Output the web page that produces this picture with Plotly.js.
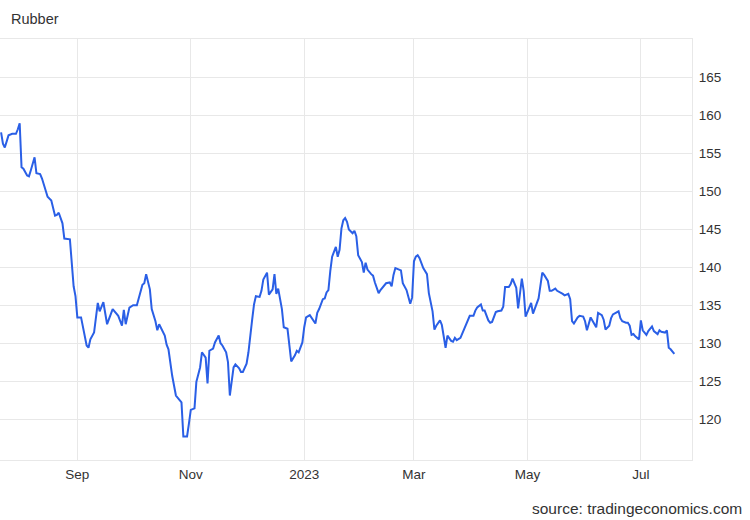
<!DOCTYPE html>
<html>
<head>
<meta charset="utf-8">
<script src="https://cdn.plot.ly/plotly-3.0.1.min.js"></script>
<style>
  html, body { margin: 0; padding: 0; background: #ffffff; }
  #chart { width: 750px; height: 520px; }
</style>
</head>
<body>
<div id="chart"></div>
<script>
const dates = [
  '2022-07-22','2022-07-23','2022-07-24','2022-07-26','2022-07-28','2022-07-30','2022-07-31',
  '2022-08-01','2022-08-02','2022-08-03','2022-08-05','2022-08-06','2022-08-07','2022-08-09','2022-08-10',
  '2022-08-12','2022-08-13','2022-08-15','2022-08-16','2022-08-18','2022-08-20','2022-08-21','2022-08-22',
  '2022-08-24','2022-08-25','2022-08-28','2022-08-30','2022-08-31',
  '2022-09-01','2022-09-03','2022-09-05','2022-09-06','2022-09-07','2022-09-08','2022-09-10','2022-09-11',
  '2022-09-12','2022-09-13','2022-09-15','2022-09-17','2022-09-19','2022-09-20','2022-09-23','2022-09-25',
  '2022-09-26','2022-09-27','2022-09-29',
  '2022-10-01','2022-10-03','2022-10-04','2022-10-06','2022-10-07','2022-10-08','2022-10-10','2022-10-11',
  '2022-10-13','2022-10-14','2022-10-15','2022-10-18','2022-10-19','2022-10-20','2022-10-22','2022-10-23',
  '2022-10-24','2022-10-26','2022-10-27','2022-10-28','2022-10-30','2022-10-31',
  '2022-11-01','2022-11-03','2022-11-04','2022-11-06','2022-11-07','2022-11-09','2022-11-10','2022-11-11',
  '2022-11-13','2022-11-14','2022-11-16','2022-11-17','2022-11-18','2022-11-20','2022-11-21','2022-11-22',
  '2022-11-24','2022-11-25','2022-11-27','2022-11-28','2022-11-29',
  '2022-12-01','2022-12-02','2022-12-04','2022-12-05','2022-12-06','2022-12-08','2022-12-09','2022-12-10',
  '2022-12-12','2022-12-13','2022-12-15','2022-12-16','2022-12-17','2022-12-18','2022-12-20','2022-12-21',
  '2022-12-23','2022-12-24','2022-12-25','2022-12-27','2022-12-28','2022-12-29','2022-12-31',
  '2023-01-01','2023-01-02','2023-01-04','2023-01-07','2023-01-08','2023-01-09','2023-01-11','2023-01-12',
  '2023-01-13','2023-01-14','2023-01-15','2023-01-16','2023-01-18','2023-01-19','2023-01-20','2023-01-21',
  '2023-01-22','2023-01-23','2023-01-24','2023-01-25','2023-01-27','2023-01-28','2023-01-29','2023-01-30',
  '2023-02-01','2023-02-02','2023-02-03','2023-02-04','2023-02-06','2023-02-07','2023-02-08','2023-02-10',
  '2023-02-11','2023-02-13','2023-02-14','2023-02-16','2023-02-17','2023-02-18','2023-02-19','2023-02-21',
  '2023-02-22','2023-02-23','2023-02-25','2023-02-27','2023-02-28',
  '2023-03-01','2023-03-02','2023-03-03','2023-03-04','2023-03-06','2023-03-07','2023-03-08','2023-03-09',
  '2023-03-11','2023-03-12','2023-03-13','2023-03-15','2023-03-16','2023-03-18','2023-03-19','2023-03-21',
  '2023-03-22','2023-03-23','2023-03-24','2023-03-26','2023-03-27','2023-03-30','2023-03-31',
  '2023-04-02','2023-04-03','2023-04-04','2023-04-06','2023-04-07','2023-04-08','2023-04-10','2023-04-11',
  '2023-04-12','2023-04-14','2023-04-15','2023-04-17','2023-04-18','2023-04-19','2023-04-21','2023-04-22',
  '2023-04-23','2023-04-25','2023-04-26','2023-04-28','2023-04-29','2023-04-30',
  '2023-05-02','2023-05-03','2023-05-04','2023-05-06','2023-05-07','2023-05-09','2023-05-10','2023-05-12',
  '2023-05-13','2023-05-14','2023-05-16','2023-05-17','2023-05-18','2023-05-20','2023-05-21','2023-05-23',
  '2023-05-24','2023-05-25','2023-05-26','2023-05-28','2023-05-29','2023-05-31',
  '2023-06-01','2023-06-02','2023-06-04','2023-06-05','2023-06-07','2023-06-08','2023-06-10','2023-06-11',
  '2023-06-12','2023-06-14','2023-06-15','2023-06-16','2023-06-19','2023-06-20','2023-06-21','2023-06-23',
  '2023-06-24','2023-06-25','2023-06-26','2023-06-27','2023-06-28','2023-06-30',
  '2023-07-01','2023-07-02','2023-07-04','2023-07-05','2023-07-07','2023-07-08','2023-07-10','2023-07-11',
  '2023-07-12','2023-07-14','2023-07-15','2023-07-16','2023-07-17','2023-07-19'
];

const prices = [
  157.8,156.3,155.8,157.4,157.6,157.6,158.2,
  159.0,153.2,153.0,152.1,152.0,152.8,154.5,152.4,
  152.3,151.7,149.9,149.3,148.8,146.8,146.9,147.2,
  145.8,143.8,143.7,137.5,136.2,
  133.4,133.4,131.0,129.7,129.4,130.5,131.4,133.1,
  135.3,134.2,135.4,132.5,133.8,134.5,133.6,132.3,
  134.4,132.5,134.7,
  135.0,135.0,135.8,137.7,137.9,139.1,137.1,134.5,
  132.9,131.7,132.5,131.0,129.8,129.2,125.7,124.4,
  123.1,122.5,122.2,117.7,117.7,119.4,
  121.2,121.4,124.9,126.8,128.8,128.1,124.7,129.0,
  129.3,130.1,131.0,130.0,129.7,128.8,127.5,123.1,
  126.8,127.2,126.7,126.2,126.2,
  127.3,128.8,133.1,135.1,136.2,136.1,136.9,138.4,
  139.3,136.4,137.1,139.1,136.5,137.2,134.5,132.1,
  131.9,129.4,127.6,128.4,129.0,128.8,130.1,
  132.1,133.4,133.7,132.6,134.0,134.5,135.8,135.9,
  136.7,137.0,139.5,141.4,142.7,141.4,142.3,145.1,
  146.2,146.5,146.0,145.0,144.5,144.8,144.1,141.6,
  140.7,139.3,140.6,139.7,139.1,138.9,138.0,136.6,
  137.0,137.7,137.9,138.0,137.5,139.0,139.9,139.7,
  139.6,137.9,137.0,135.2,136.0,
  140.8,141.4,141.6,141.2,139.9,139.4,139.1,136.6,
  134.2,131.8,132.3,133.0,132.4,129.4,131.0,130.3,
  130.2,130.7,130.4,130.7,131.3,133.1,133.6,
  133.6,134.3,134.7,135.1,134.3,134.3,133.0,132.7,
  132.8,134.1,134.2,134.3,134.8,137.4,137.4,137.8,
  138.5,137.3,134.6,138.5,136.9,133.5,
  134.7,135.3,133.9,135.1,135.9,139.3,139.0,138.2,
  136.9,136.9,137.2,136.9,136.8,136.5,136.3,136.5,
  135.8,132.9,132.6,133.4,133.6,133.5,
  132.9,131.7,133.4,132.9,132.1,134.0,133.7,133.1,
  131.8,132.3,133.3,133.8,134.2,133.3,132.9,132.7,
  132.7,132.3,131.1,131.2,130.9,130.5,
  133.0,131.7,131.1,131.6,132.2,131.6,131.2,131.7,
  131.5,131.4,131.7,129.4,129.2,128.6
];

const xTickVals = ['2022-09-01','2022-11-01','2023-01-01','2023-03-01','2023-05-01','2023-07-01'];
const xTickText = ['Sep','Nov','2023','Mar','May','Jul'];
const yTickVals = [120,125,130,135,140,145,150,155,160,165];
const chartTitle = 'Rubber';
const sourceText = 'source: tradingeconomics.com';

const FONT = '"Liberation Sans", Arial, sans-serif';
const GRID = '#e8e8e8';

const trace = {
  x: dates,
  y: prices,
  type: 'scatter',
  mode: 'lines',
  line: { color: '#2a5fe6', width: 2 },
  hoverinfo: 'skip'
};

const layout = {
  width: 750,
  height: 520,
  margin: { l: 0, r: 58, t: 39, b: 60, pad: 0 },
  paper_bgcolor: '#ffffff',
  plot_bgcolor: '#ffffff',
  showlegend: false,
  font: { family: FONT, size: 13, color: '#333333' },
  xaxis: {
    type: 'date',
    range: ['2022-07-21 10:00', '2023-07-28 12:00'],
    tickvals: xTickVals,
    ticktext: xTickText,
    showgrid: true,
    gridcolor: GRID,
    gridwidth: 1,
    zeroline: false,
    showline: true,
    linecolor: GRID,
    linewidth: 1,
    mirror: true,
    ticks: '',
    ticklabelstandoff: 2,
    tickfont: { family: FONT, size: 13.5, color: '#333333' },
    fixedrange: true
  },
  yaxis: {
    side: 'right',
    range: [114.6, 170.1],
    tickvals: yTickVals,
    showgrid: true,
    gridcolor: GRID,
    gridwidth: 1,
    zeroline: false,
    showline: true,
    linecolor: GRID,
    linewidth: 1,
    ticks: '',
    ticklabelstandoff: 3,
    tickfont: { family: FONT, size: 13.5, color: '#333333' },
    fixedrange: true
  },
  annotations: [
    {
      text: chartTitle,
      xref: 'paper', yref: 'paper',
      x: 0, y: 1, xshift: 9, yshift: 20,
      xanchor: 'left', yanchor: 'middle',
      showarrow: false,
      font: { family: FONT, size: 14.5, color: '#333333' }
    },
    {
      text: sourceText,
      xref: 'paper', yref: 'paper',
      x: 1, y: 0, xshift: 52, yshift: -48,
      xanchor: 'right', yanchor: 'middle',
      showarrow: false,
      font: { family: FONT, size: 15.5, color: '#333333' }
    }
  ]
};

Plotly.newPlot('chart', [trace], layout, { displayModeBar: false, staticPlot: true });
</script>
</body>
</html>
